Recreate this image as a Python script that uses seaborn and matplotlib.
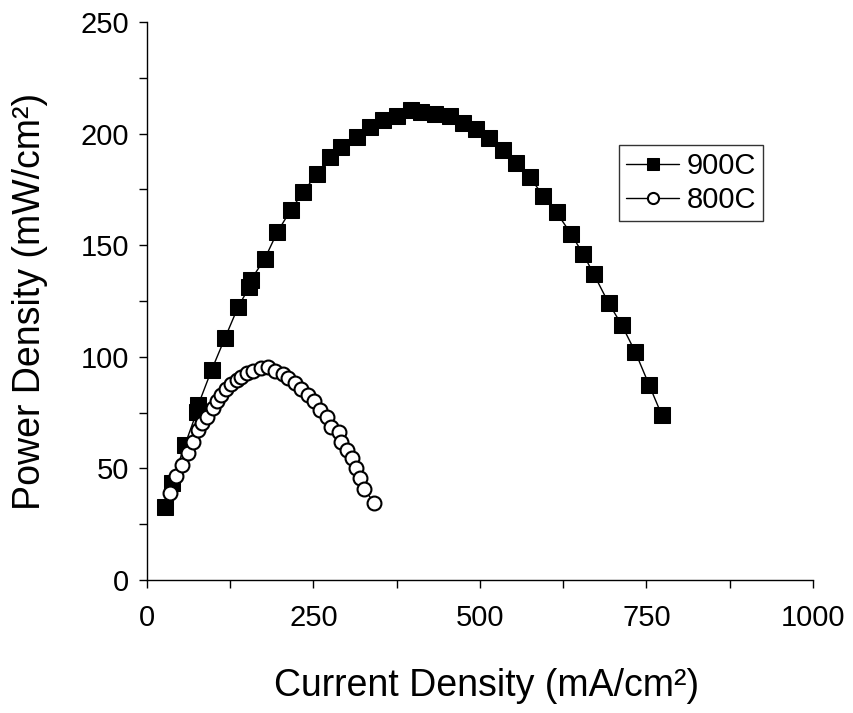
import numpy as np
import pandas as pd
import seaborn as sns
import matplotlib.pyplot as plt
from matplotlib.ticker import MultipleLocator

# 900C データ
x_900 = [27, 37, 57, 75, 77, 97, 117, 137, 154, 156, 177, 196, 216, 235, 255,
         275, 292, 315, 335, 355, 375, 397, 412, 432, 455, 474, 494, 514, 535,
         554, 575, 595, 615, 637, 655, 671, 693, 713, 733, 754, 773]
y_900 = [32.8, 43.3, 60.5, 75.4, 78.4, 94.0, 108.3, 122.4, 131.4, 134.4, 144.0,
         156.0, 165.8, 174.0, 181.9, 189.7, 194.0, 198.6, 203.0, 206.0, 208.0,
         210.6, 209.8, 209.0, 208.0, 205.0, 202.0, 198.0, 192.6, 186.7, 180.4,
         172.2, 164.7, 155.0, 146.0, 137.0, 124.2, 114.2, 102.3, 87.4, 73.9]

# 800C データ
x_800 = [34.5, 43.5, 52, 62, 69.6, 77, 82, 89.6, 98.5, 105.6, 112, 118.6, 125.6,
         134.6, 142, 149.7, 159.7, 172, 182, 192, 203.7, 212, 222, 232, 242,
         251, 260, 270, 277, 289, 292, 300, 307.5, 314, 320, 326, 341]
y_800 = [38.8, 46.6, 51.5, 56.8, 62.0, 67.2, 70.2, 73.0, 77.0, 80.0, 83.0, 85.5,
         87.8, 89.6, 91.0, 92.6, 93.8, 94.8, 95.3, 93.8, 92.3, 90.4, 88.1, 85.5,
         83.0, 80.0, 76.2, 73.2, 68.7, 66.5, 62.0, 58.2, 54.5, 50.0, 45.6, 41.0,
         34.6]

sns.set_style('white')
plt.rcParams['font.family'] = ['Liberation Sans', 'DejaVu Sans']
plt.rcParams['text.color'] = 'black'
plt.rcParams['axes.labelcolor'] = 'black'
plt.rcParams['xtick.color'] = 'black'
plt.rcParams['ytick.color'] = 'black'

fig = plt.figure(figsize=(8.54, 7.13), dpi=100)
ax = fig.add_axes([0.172, 0.1865, 0.78, 0.7825])

sns.lineplot(x=x_900, y=y_900, ax=ax, color='black', linewidth=1.0,
             marker='s', markersize=11, markerfacecolor='black',
             markeredgecolor='black', label='900C')
sns.lineplot(x=x_800, y=y_800, ax=ax, color='black', linewidth=1.0,
             marker='o', markersize=10, markerfacecolor='white',
             markeredgecolor='black', markeredgewidth=1.5, label='800C')

ax.set_xlim(0, 1000)
ax.set_ylim(0, 250)
ax.xaxis.set_major_locator(MultipleLocator(250))
ax.xaxis.set_minor_locator(MultipleLocator(125))
ax.yaxis.set_major_locator(MultipleLocator(50))
ax.yaxis.set_minor_locator(MultipleLocator(25))
ax.tick_params(which='both', direction='out', length=6, width=1, color='black',
               labelcolor='black', bottom=True, left=True)
ax.tick_params(which='major', labelsize=21)
ax.tick_params(axis='x', which='major', pad=11)
ax.tick_params(axis='y', which='major', pad=7)

for side in ['top', 'right']:
    ax.spines[side].set_visible(False)
for side in ['left', 'bottom']:
    ax.spines[side].set_color('black')
    ax.spines[side].set_linewidth(1)

ax.set_xlabel('Current Density (mA/cm²)', fontsize=27, color='black')
ax.set_ylabel('Power Density (mW/cm²)', fontsize=27, color='black')
ax.xaxis.set_label_coords(0.51, -0.157)
ax.yaxis.set_label_coords(-0.148, 0.5)

leg = ax.legend(loc='upper left', bbox_to_anchor=(0.709, 0.78), fontsize=21,
                frameon=True, fancybox=False, borderpad=0.25, labelspacing=0.2,
                handlelength=1.8, handletextpad=0.25, borderaxespad=0)
leg.get_frame().set_edgecolor('black')
leg.get_frame().set_linewidth(1)
for t in leg.get_texts():
    t.set_color('black')
for h in leg.legend_handles:
    h.set_markersize(8)

fig.savefig('out.png', dpi=100)
